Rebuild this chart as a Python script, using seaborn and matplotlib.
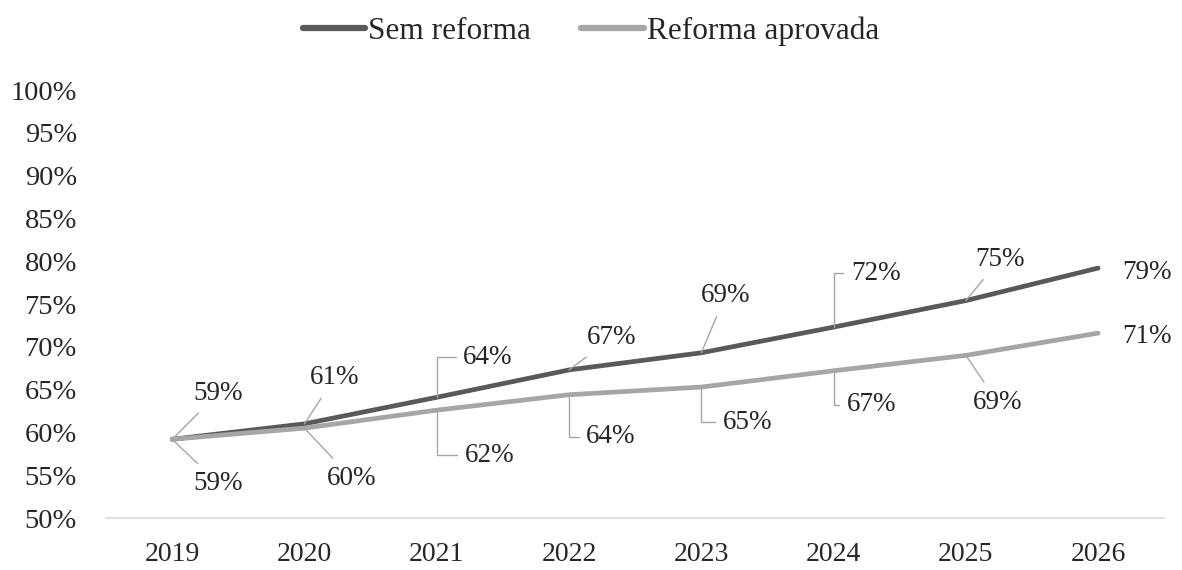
import pandas as pd
import matplotlib
matplotlib.use("Agg")
import matplotlib.pyplot as plt
import seaborn as sns

# Data
years = [2019, 2020, 2021, 2022, 2023, 2024, 2025, 2026]
sem_reforma = [0.592, 0.610, 0.641, 0.673, 0.693, 0.723, 0.754, 0.792]
reforma_aprovada = [0.592, 0.605, 0.626, 0.644, 0.653, 0.672, 0.690, 0.716]
sem_labels = ["59%", "61%", "64%", "67%", "69%", "72%", "75%", "79%"]
ref_labels = ["59%", "60%", "62%", "64%", "65%", "67%", "69%", "71%"]
y_ticks = [0.50, 0.55, 0.60, 0.65, 0.70, 0.75, 0.80, 0.85, 0.90, 0.95, 1.00]

# Label placement (pixel offsets from the point) and leader style
sem_offsets = [(46, 46), (30, 46), (51, 40), (43, 32), (24, 57), (42, 54), (34, 41), (49, -4)]
sem_leaders = ["line", "line", "bracket", "line", "line", "bracket", "line", "none"]
ref_offsets = [(46, -44), (47, -50), (53, -45), (42, -42), (46, -35), (38, -34), (32, -47), (49, -3)]
ref_leaders = ["line", "line", "bracket", "bracket", "bracket", "bracket", "line", "none"]

DARK = "#595959"
LIGHT = "#a6a6a6"
LEADER = "#a6a6a6"

df = pd.DataFrame({
    "ano": years * 2,
    "valor": sem_reforma + reforma_aprovada,
    "cenario": ["Sem reforma"] * len(years) + ["Reforma aprovada"] * len(years),
})

sns.set_theme(style="white")
plt.rcParams["font.family"] = ["Liberation Serif", "DejaVu Serif"]

fig = plt.figure(figsize=(11.82, 5.70), dpi=100)
ax = fig.add_axes([0.0897, 0.0912, 0.8953, 0.7509])

sns.lineplot(data=df, x="ano", y="valor", hue="cenario",
             palette={"Sem reforma": DARK, "Reforma aprovada": LIGHT},
             linewidth=3.4, sort=False, ax=ax, legend=False)
for ln in ax.lines:
    ln.set_solid_capstyle("round")
    ln.set_solid_joinstyle("round")


def add_labels(values, labels, offsets, leaders):
    for x, v, lab, off, kind in zip(years, values, labels, offsets, leaders):
        props = None
        if kind == "line":
            props = dict(arrowstyle="-", color=LEADER, lw=1.0, shrinkA=4, shrinkB=0)
        elif kind == "bracket":
            props = dict(arrowstyle="-", color=LEADER, lw=1.0, shrinkA=3, shrinkB=0,
                         connectionstyle="angle,angleA=0,angleB=90,rad=0")
        ax.annotate(lab, xy=(x, v), xytext=off, textcoords="offset pixels",
                    ha="center", va="center", fontsize=19.5, color="#262626",
                    arrowprops=props)


add_labels(sem_reforma, sem_labels, sem_offsets, sem_leaders)
add_labels(reforma_aprovada, ref_labels, ref_offsets, ref_leaders)

ax.set_xlim(2018.5, 2026.5)
ax.set_ylim(0.5, 1.0)
ax.set_xticks(years)
ax.set_xticklabels([str(y) for y in years])
ax.set_yticks(y_ticks)
ax.set_yticklabels([f"{int(round(t * 100))}%" for t in y_ticks])
ax.set_xlabel("")
ax.set_ylabel("")
ax.tick_params(axis="y", length=0, pad=21, labelsize=20.5, labelcolor="#262626")
ax.tick_params(axis="x", length=0, pad=17, labelsize=20, labelcolor="#262626")
ax.grid(False)
for side in ["top", "right", "left"]:
    ax.spines[side].set_visible(False)
ax.spines["bottom"].set_color("#d9d9d9")
ax.spines["bottom"].set_linewidth(1.2)

handles = [plt.Line2D([], [], color=DARK, lw=4.5),
           plt.Line2D([], [], color=LIGHT, lw=4.5)]
fig.legend(handles, ["Sem reforma", "Reforma aprovada"], loc="center",
           bbox_to_anchor=(0.5, 0.945), ncol=2, frameon=False,
           fontsize=22.5, handlelength=2.0, handletextpad=0.1,
           columnspacing=1.6, labelcolor="#262626")

fig.savefig("out.png", dpi=100)
